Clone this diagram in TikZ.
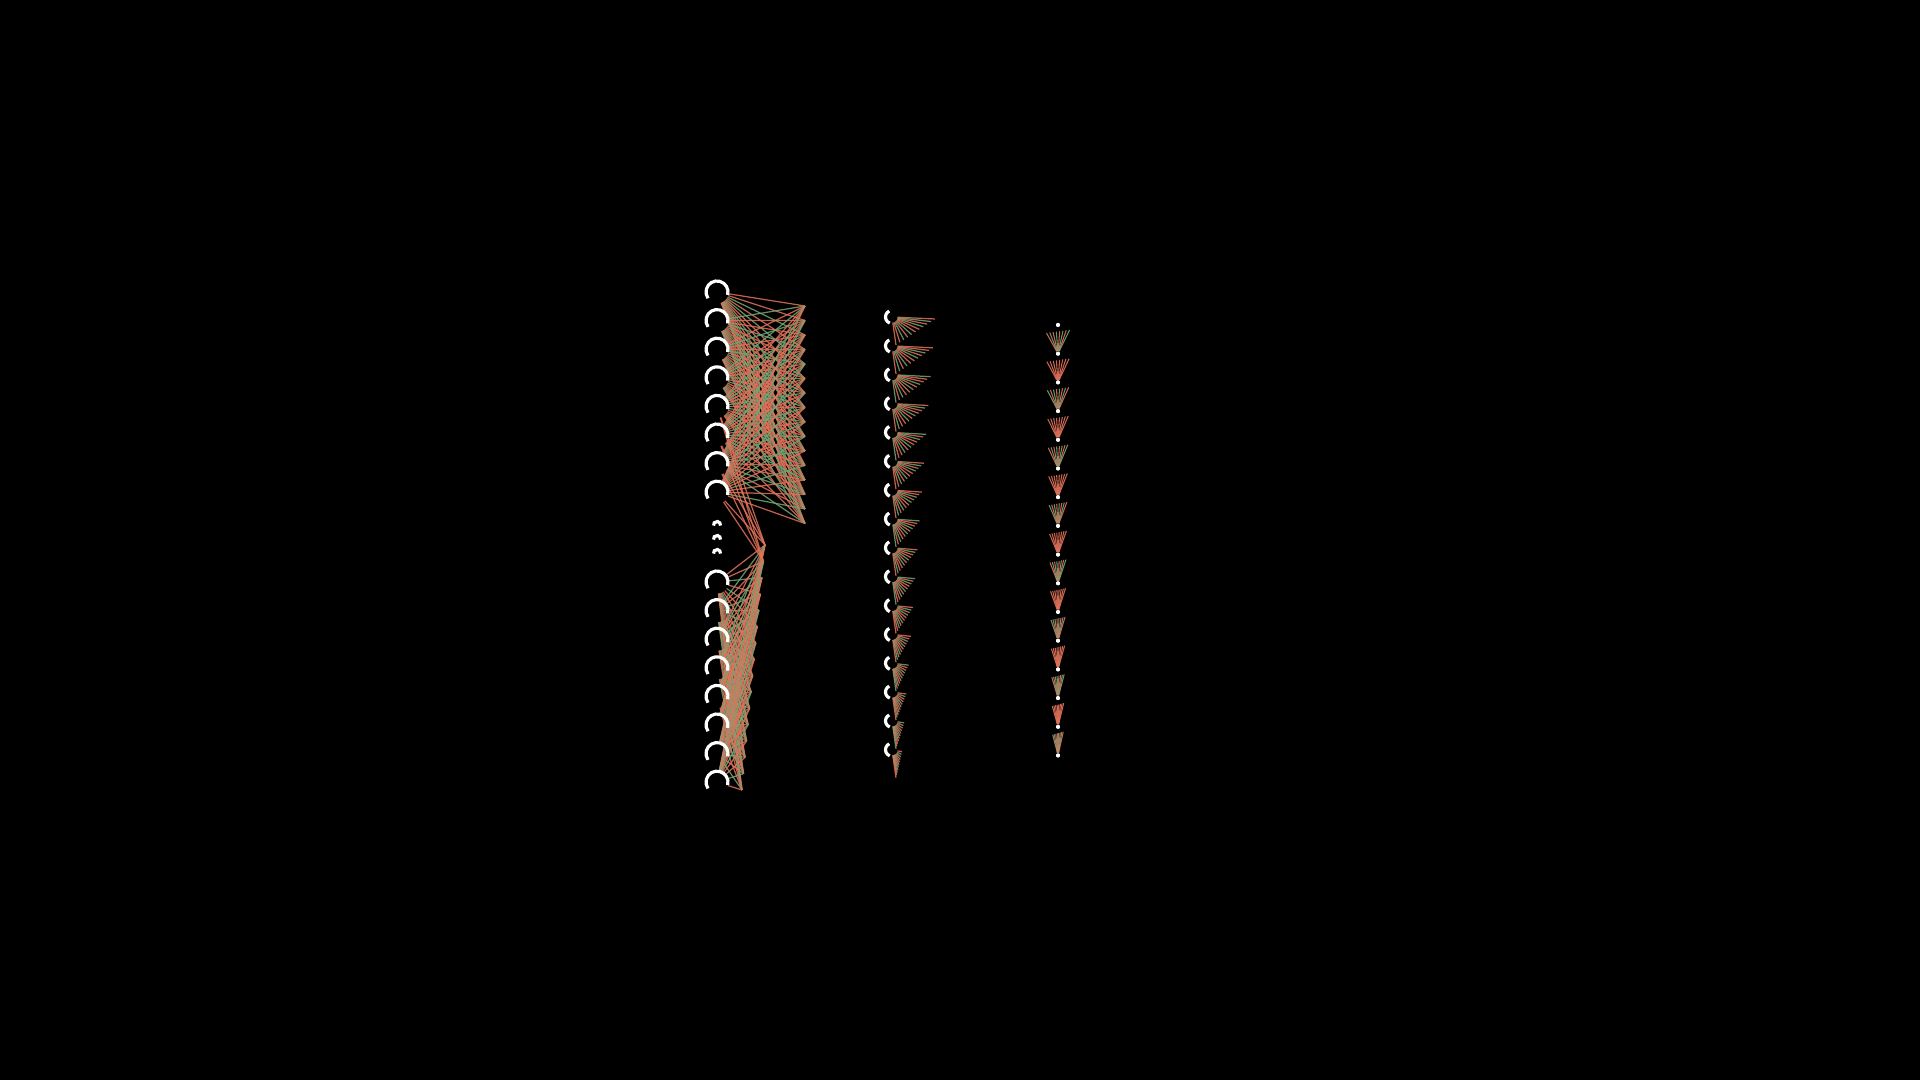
\documentclass[tikz,border=0pt]{standalone}
\definecolor{salmon}{HTML}{E2725A}
\definecolor{sage}{HTML}{74A676}
\tikzset{
  neuron/.style={circle,minimum size=0.22cm,inner sep=0pt},
  smallnode/.style={circle,minimum size=0.1cm,inner sep=0pt},
  dotnode/.style={circle,fill=white,minimum size=0.04cm,inner sep=0pt},
  wire/.style={line width=0.35pt,opacity=0.85},
  thinwire/.style={line width=0.3pt,opacity=0.9},
  ring/.style={draw=white,line width=0.9pt},
}
\begin{document}
\begin{tikzpicture}[x=0.01cm,y=0.01cm]
\fill[black] (0,0) rectangle (1920,1080);
\useasboundingbox (0,0) rectangle (1920,1080);
% ---- layer 1 ----
\foreach \i in {0,...,7}{
  \pgfmathsetmacro\Ya{1080-(292+28.6*\i)}
  \node[neuron] (a\i) at (717,\Ya) {};
  \pgfmathsetmacro\Yb{1080-(582+28.6*\i)}
  \node[neuron] (b\i) at (717,\Yb) {};
}
\foreach \j in {0,...,15}{
  \pgfmathsetmacro\Yt{1080-(306+14.5*\j)}
  \coordinate (t\j) at (805,\Yt);
  \pgfmathsetmacro\Xu{765-23*\j/15}
  \pgfmathsetmacro\Yu{1080-(545+245*\j/15)}
  \coordinate (u\j) at (\Xu,\Yu);
}
\foreach \i in {0,...,7}{
  \foreach \j in {0,...,15}{
    \pgfmathtruncatemacro\c{mod(3*\i+7*\j,5)}
    \ifnum\c<3 \def\col{salmon}\else\def\col{sage}\fi
    \draw[wire,draw=\col] (a\i) -- (t\j);
    \draw[wire,draw=\col] (b\i) -- (u\j);
  }
}
\foreach \i in {4,...,7}{
  \foreach \j in {0,1}{
    \draw[wire,draw=salmon] (a\i) -- (u\j);
  }
}
\foreach \i in {0,...,7}{
  \draw[ring] ([shift={(-15:0.11cm)}]a\i.center) arc[start angle=-15,end angle=215,radius=0.11cm];
  \draw[ring] ([shift={(-15:0.11cm)}]b\i.center) arc[start angle=-15,end angle=215,radius=0.11cm];
}
\foreach \d [count=\n] in {525,539,553}{
  \pgfmathsetmacro\Yd{1080-\d}
  \node[smallnode] (e\n) at (717,\Yd) {};
  \draw[white,line width=0.9pt] ([shift={(-10:0.035cm)}]e\n.center) arc[start angle=-10,end angle=190,radius=0.035cm];
}
% ---- layer 2 ----
\foreach \k in {0,...,15}{
  \pgfmathsetmacro\Ym{1080-(317+28.85*\k)}
  \node[smallnode] (m\k) at (892,\Ym) {};
}
\foreach \k in {0,...,15}{
  \pgfmathsetmacro\xr{935-2.2*\k}
  \foreach \m in {0,...,10}{
    \pgfmathsetmacro\px{\xr-(\xr-896)*\m/10}
    \pgfmathsetmacro\py{1080-(317+28.85*\k+2+2.6*\m)}
    \coordinate (f\k-\m) at (\px,\py);
    \pgfmathtruncatemacro\c{mod(2*\k+3*\m,5)}
    \ifnum\c<3 \def\col{salmon}\else\def\col{sage}\fi
    \draw[wire,draw=\col] (m\k) -- (f\k-\m);
  }
}
\foreach \k in {0,...,15}{
  \draw[white,line width=0.9pt] ([shift={(115:0.065cm)}]m\k.center) arc[start angle=115,end angle=250,radius=0.065cm];
}
% ---- layer 3 ----
\foreach \k in {0,...,15}{
  \pgfmathsetmacro\Yr{1080-(325+28.7*\k)}
  \node[dotnode] (r\k) at (1058,\Yr) {};
}
\foreach \k in {1,...,15}{
  \pgfmathsetmacro\w{12-0.45*\k}
  \foreach \m in {0,...,7}{
    \pgfmathsetmacro\px{1058-\w+2*\w*\m/7}
    \pgfmathsetmacro\py{1080-(325+28.7*(\k-1)+8-3*\m/7)}
    \coordinate (g\k-\m) at (\px,\py);
    \pgfmathtruncatemacro\c{mod(\k+2*\m,4)}
    \ifnum\c<3 \def\col{salmon}\else\def\col{sage}\fi
    \draw[thinwire,draw=\col] (r\k) -- (g\k-\m);
  }
}
\foreach \k in {0,...,15}{
  \node[dotnode] at (r\k) {};
}
\end{tikzpicture}
\end{document}
